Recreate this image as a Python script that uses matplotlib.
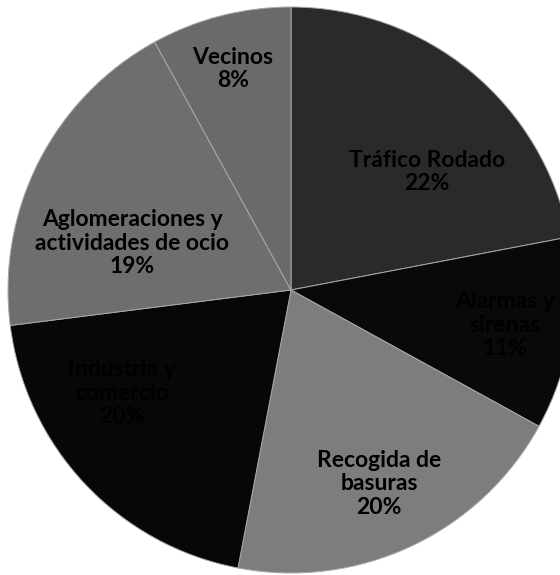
import matplotlib.pyplot as plt

# Fuentes de ruido (porcentaje de quejas)
labels = ['Tráfico Rodado', 'Alarmas y\nsirenas', 'Recogida de\nbasuras',
          'Industria y\ncomercio', 'Aglomeraciones y\nactividades de ocio', 'Vecinos']
values = [22, 11, 20, 20, 19, 8]
colors = ['#2a2a2a', '#090909', '#7d7d7d', '#070707', '#6e6e6e', '#6a6a6a']

plt.rcParams['font.family'] = ['Lato', 'DejaVu Sans']

W, H = 560, 575
fig = plt.figure(figsize=(W / 100, H / 100), dpi=100)
ax = fig.add_axes([0.0, 0.0, 1.0, 1.0])

wedges, texts, autotexts = ax.pie(
    values, colors=colors, startangle=90, counterclock=False,
    center=(291, H - 290), radius=283,
    autopct='%1.0f%%', pctdistance=0.55,
    wedgeprops=dict(edgecolor='#a8a8a8', linewidth=0.7),
    textprops=dict(color='black', fontsize=16.5, fontweight='bold'),
    frame=True,
)
ax.set_xlim(0, W)
ax.set_ylim(0, H)
ax.set_aspect('equal')
ax.axis('off')

# etiquetas dentro de cada sector: nombre y porcentaje (posición en píxeles desde arriba)
label_pos = [(427, 172), (505, 325), (379, 484), (122, 393), (132, 243), (233, 69)]
for t, lab, (px, py) in zip(autotexts, labels, label_pos):
    t.set_text(lab + '\n' + t.get_text())
    t.set_position((px, H - py))
    t.set_ha('center')
    t.set_va('center')
    t.set_linespacing(1.12)

fig.savefig('out.png', dpi=100, facecolor='white')
